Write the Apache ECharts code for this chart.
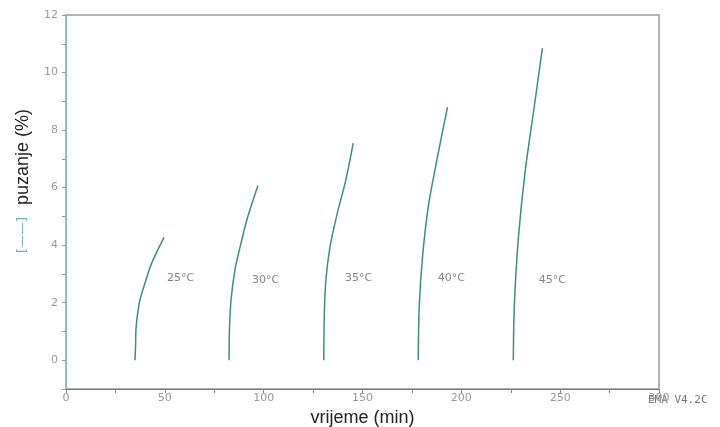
<!DOCTYPE html>
<html>
<head>
<meta charset="utf-8">
<script src="https://cdn.jsdelivr.net/npm/echarts@6/dist/echarts.min.js"></script>
<style>
  html, body { margin: 0; padding: 0; background: #fff; }
  #chart { width: 720px; height: 427px; }
</style>
</head>
<body>
<div id="chart"></div>
<script>
// puzanje (%) vs vrijeme (min), one curve per temperature
var time25 = [34.9, 35.2, 35.4, 36.2, 37.4, 40.5, 43.5, 49.6];
var creep25 = [0, 0.5, 1.08, 1.6, 2.1, 2.8, 3.4, 4.27];
var time30 = [82.5, 82.7, 83.5, 85.5, 88.3, 91.6, 97.1];
var creep30 = [0, 1.08, 2.1, 3.16, 4.0, 4.9, 6.07];
var time35 = [130.4, 130.7, 131.5, 133.6, 137.3, 141.6, 145.3];
var creep35 = [0, 1.66, 2.81, 3.96, 5.12, 6.28, 7.55];
var time40 = [178.2, 178.7, 180.4, 183.3, 188.0, 193.0];
var creep40 = [0, 1.88, 3.62, 5.35, 7.09, 8.8];
var time45 = [226.3, 226.8, 228.8, 232.2, 236.9, 241.0];
var creep45 = [0, 1.88, 4.2, 6.51, 8.82, 10.85];

var labelText = ['25°C', '30°C', '35°C', '40°C', '45°C'];
var labelTime = [58, 101, 148, 195, 246];
var labelCreep = [2.85, 2.78, 2.85, 2.85, 2.78];

function pairs(xs, ys) {
    var out = [];
    for (var i = 0; i < xs.length; i++) out.push([xs[i], ys[i]]);
    return out;
}

var lineColor = '#3d8f79';
var curves = [[time25, creep25], [time30, creep30], [time35, creep35], [time40, creep40], [time45, creep45]];
var series = curves.map(function (c, i) {
    return {
        name: labelText[i],
        type: 'line',
        data: pairs(c[0], c[1]),
        showSymbol: false,
        smooth: 0.3,
        lineStyle: { color: lineColor, width: 1.5 },
        animation: false
    };
});
series.push({
    type: 'scatter',
    symbolSize: 0,
    data: labelTime.map(function (t, i) { return { value: [t, labelCreep[i]], name: labelText[i] }; }),
    label: {
        show: true,
        position: 'inside',
        formatter: '{b}',
        color: '#666',
        fontSize: 11,
        fontFamily: 'DejaVu Sans'
    },
    animation: false
});

var chart = echarts.init(document.getElementById('chart'));
chart.setOption({
    backgroundColor: '#fff',
    grid: {
        left: 66,
        right: 61,
        top: 15,
        bottom: 38,
        outerBoundsMode: 'none',
        show: true,
        borderColor: '#b4b4b4',
        borderWidth: 2
    },
    xAxis: {
        type: 'value',
        min: 0,
        max: 300,
        interval: 25,
        name: 'vrijeme (min)',
        nameLocation: 'middle',
        nameGap: 13,
        nameTextStyle: { color: '#222', fontSize: 18, fontFamily: 'Liberation Sans' },
        axisLine: { onZero: false, lineStyle: { color: '#777', width: 1 } },
        axisTick: { show: true, length: 4, lineStyle: { color: '#888' } },
        splitLine: { show: false },
        axisLabel: {
            color: '#999',
            fontSize: 11,
            fontFamily: 'DejaVu Sans',
            margin: 4,
            formatter: function (v) { return v % 50 === 0 ? v : ''; }
        }
    },
    yAxis: {
        type: 'value',
        min: -1,
        max: 12,
        interval: 1,
        axisLine: { show: true, onZero: false, lineStyle: { color: '#8cc2b2', width: 2 } },
        axisTick: { show: true, length: 4, lineStyle: { color: '#999' } },
        splitLine: { show: false },
        axisLabel: {
            color: '#999',
            fontSize: 11,
            fontFamily: 'DejaVu Sans',
            margin: 8,
            formatter: function (v) { return (v >= 0 && v % 2 === 0) ? v : ''; }
        }
    },
    graphic: [
        {
            type: 'text',
            x: 23, y: 157,
            rotation: Math.PI / 2,
            style: {
                text: 'puzanje (%)',
                fill: '#222',
                font: '18px "Liberation Sans"',
                align: 'center',
                verticalAlign: 'middle'
            }
        },
        {
            type: 'text',
            x: 23, y: 235,
            rotation: Math.PI / 2,
            style: {
                text: '[——]',
                fill: '#6fb3a0',
                font: '13px "DejaVu Sans"',
                align: 'center',
                verticalAlign: 'middle'
            }
        },
        {
            type: 'text',
            x: 648, y: 400,
            style: {
                text: 'EMA V4.2C',
                fill: '#777',
                font: '11px "DejaVu Sans Mono"',
                align: 'left',
                verticalAlign: 'middle'
            }
        }
    ],
    series: series
});
</script>
</body>
</html>
